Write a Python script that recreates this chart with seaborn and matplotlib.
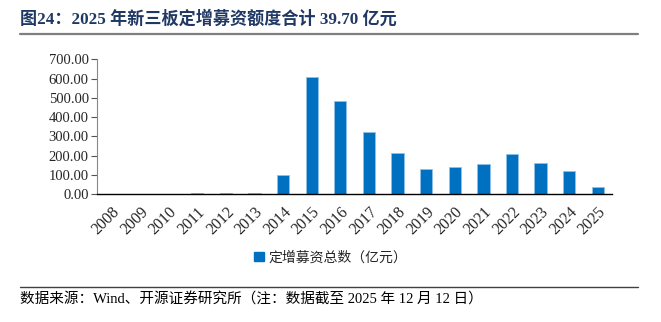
import matplotlib
matplotlib.use("Agg")
import matplotlib.pyplot as plt
import seaborn as sns
import pandas as pd
from matplotlib.patches import Patch
from matplotlib.lines import Line2D

years = ["2008", "2009", "2010", "2011", "2012", "2013", "2014", "2015", "2016",
         "2017", "2018", "2019", "2020", "2021", "2022", "2023", "2024", "2025"]
values = [2, 0, 2, 5, 5, 9, 98, 610, 485, 325, 212, 131, 140, 155, 210, 164, 119, 39.70]
series_name = "定增募资总数（亿元）"
title = "图24：2025 年新三板定增募资额度合计 39.70 亿元"
source = "数据来源：Wind、开源证券研究所（注：数据截至 2025 年 12 月 12 日）"
yticks = [0, 100, 200, 300, 400, 500, 600, 700]

sns.set_style("white")
fam = ["Liberation Serif", "Noto Sans CJK SC"]
plt.rcParams["font.family"] = fam

df = pd.DataFrame({"year": years, "value": values})
color = "#0070C0"

fig = plt.figure(figsize=(6.61, 3.22), dpi=100)
ax = fig.add_axes([0.147, 0.3966, 0.779, 0.4194])
sns.barplot(data=df, x="year", y="value", color=color, width=0.43, ax=ax,
            saturation=1, edgecolor="#8fc0e8", linewidth=0.6)

ax.set_ylim(0, 700)
ax.set_xlim(-0.5, len(years) - 0.5)
ax.set_yticks(yticks)
ax.set_yticklabels([f"{v:.2f}" for v in yticks], fontsize=10.5)
ax.set_xticks(range(len(years)))
ax.set_xticklabels(years, rotation=45, ha="right", rotation_mode="anchor", fontsize=11.5)
ax.tick_params(axis="x", length=0, pad=7)
ax.set_xticks([i + 0.5 for i in range(len(years))], minor=True)
ax.tick_params(axis="x", which="minor", direction="in", length=4, width=0.8, color="#555555")
ax.tick_params(axis="y", direction="out", length=4, width=0.8, color="#555555", pad=2, left=True)
ax.set_xlabel("")
ax.set_ylabel("")
for s in ["top", "right"]:
    ax.spines[s].set_visible(False)
ax.spines["left"].set_color("#888888")
ax.spines["left"].set_linewidth(0.8)
ax.spines["bottom"].set_color("#000000")
ax.spines["bottom"].set_linewidth(1.0)

fig.text(0.030, 0.94, title, fontsize=12.3, fontweight="bold", color="#1F3864",
         family=fam, va="center", ha="left")
fig.add_artist(Line2D([0.030, 0.965], [0.893, 0.893], color="#7f7f7f", lw=1.6))
fig.add_artist(Line2D([0.030, 0.965], [0.108, 0.108], color="#404040", lw=1.0))
fig.text(0.030, 0.07, source, fontsize=10.5, color="#000000", family=fam,
         va="center", ha="left")

handle = Patch(facecolor=color, edgecolor=color)
fig.legend([handle], [series_name], loc="center", bbox_to_anchor=(0.5, 0.2),
           frameon=False, fontsize=10, handlelength=0.7, handleheight=0.7,
           handletextpad=0.3)

fig.savefig("out.png", dpi=100)
